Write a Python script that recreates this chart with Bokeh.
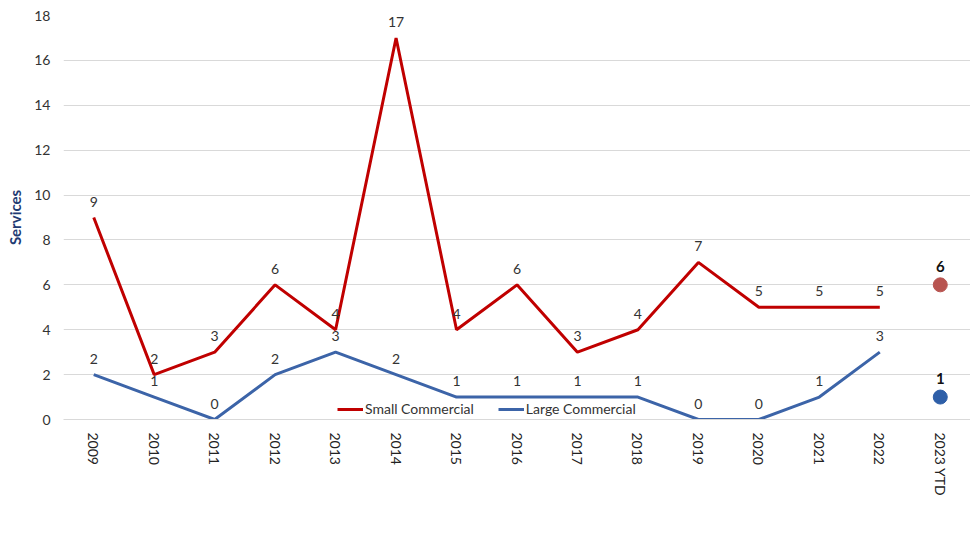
import math
from bokeh.plotting import figure
from bokeh.models import Range1d, SingleIntervalTicker, Legend, LegendItem, ColumnDataSource
from bokeh.core.properties import value
from bokeh.embed import file_html
from bokeh.resources import INLINE

years = ["2009", "2010", "2011", "2012", "2013", "2014", "2015", "2016", "2017",
         "2018", "2019", "2020", "2021", "2022"]
ytd_label = "2023 YTD"
categories = years + [ytd_label]
small_commercial = [9, 2, 3, 6, 4, 17, 4, 6, 3, 4, 7, 5, 5, 5]
large_commercial = [2, 1, 0, 2, 3, 2, 1, 1, 1, 1, 0, 0, 1, 3]
small_ytd = 6
large_ytd = 1

FONT = "Lato"
RED = "#C00000"
BLUE = "#3C64A8"
RED_DOT = "#B85450"
BLUE_DOT = "#2E5FA8"
TXT = "#333333"

p = figure(width=970, height=533, frame_width=907, frame_height=404,
           x_range=categories, y_range=Range1d(0, 18),
           output_backend="svg", toolbar_location=None,
           min_border_left=63, min_border_right=0, min_border_top=15, min_border_bottom=0)
p.outline_line_color = None
p.background_fill_color = "white"
p.border_fill_color = "white"

src_s = ColumnDataSource(dict(x=years, y=small_commercial, t=[str(v) for v in small_commercial]))
src_l = ColumnDataSource(dict(x=years, y=large_commercial, t=[str(v) for v in large_commercial]))

r_s = p.line("x", "y", source=src_s, line_color=RED, line_width=3)
r_l = p.line("x", "y", source=src_l, line_color=BLUE, line_width=3)

p.text("x", "y", text="t", source=src_s, text_align="center", text_baseline="bottom",
       y_offset=-11, text_font=value(FONT), text_font_size="14px", text_color=TXT)
p.text("x", "y", text="t", source=src_l, text_align="center", text_baseline="bottom",
       y_offset=-11, text_font=value(FONT), text_font_size="14px", text_color=TXT)

src_ytd = ColumnDataSource(dict(x=[ytd_label, ytd_label], y=[small_ytd, large_ytd],
                                t=[str(small_ytd), str(large_ytd)], c=[RED_DOT, BLUE_DOT]))
p.scatter("x", "y", source=src_ytd, size=14, fill_color="c", line_color="c")
p.text("x", "y", text="t", source=src_ytd, text_align="center", text_baseline="bottom",
       y_offset=-13, text_font=value(FONT), text_font_size="15px", text_font_style="bold",
       text_color="#111111")

p.yaxis.ticker = SingleIntervalTicker(interval=2)
p.yaxis.axis_line_color = None
p.yaxis.major_tick_line_color = None
p.yaxis.minor_tick_line_color = None
p.yaxis.major_tick_out = 0
p.yaxis.major_tick_in = 0
p.yaxis.minor_tick_out = 0
p.yaxis.major_label_text_font = FONT
p.yaxis.major_label_text_font_size = "14px"
p.yaxis.major_label_text_color = TXT
p.yaxis.major_label_standoff = 13
p.yaxis.axis_label = "Services"
p.yaxis.axis_label_text_font = FONT
p.yaxis.axis_label_text_font_size = "15px"
p.yaxis.axis_label_text_font_style = "bold"
p.yaxis.axis_label_text_color = "#1F3B73"
p.yaxis.axis_label_standoff = 7

p.xaxis.axis_line_color = "#D9D9D9"
p.xaxis.major_tick_line_color = None
p.xaxis.minor_tick_line_color = None
p.xaxis.major_tick_out = 0
p.xaxis.major_tick_in = 0
p.xaxis.major_label_orientation = -math.pi / 2
p.xaxis.major_label_text_font = FONT
p.xaxis.major_label_text_font_size = "14px"
p.xaxis.major_label_text_color = "#222222"
p.xaxis.major_label_standoff = 13

p.xgrid.grid_line_color = None
p.ygrid.grid_line_color = "#D9D9D9"
p.ygrid.grid_line_width = 1

legend = Legend(items=[LegendItem(label="Small Commercial", renderers=[r_s]),
                       LegendItem(label="Large Commercial", renderers=[r_l])],
                orientation="horizontal", location=(274, 2),
                label_text_font=FONT, label_text_font_size="14px", label_text_color=TXT,
                glyph_width=26, glyph_height=14, label_height=14, label_standoff=2, spacing=24,
                padding=0, margin=0, border_line_color=None, background_fill_alpha=0)
p.add_layout(legend, "center")

open("out.html", "w").write(file_html(p, INLINE))
